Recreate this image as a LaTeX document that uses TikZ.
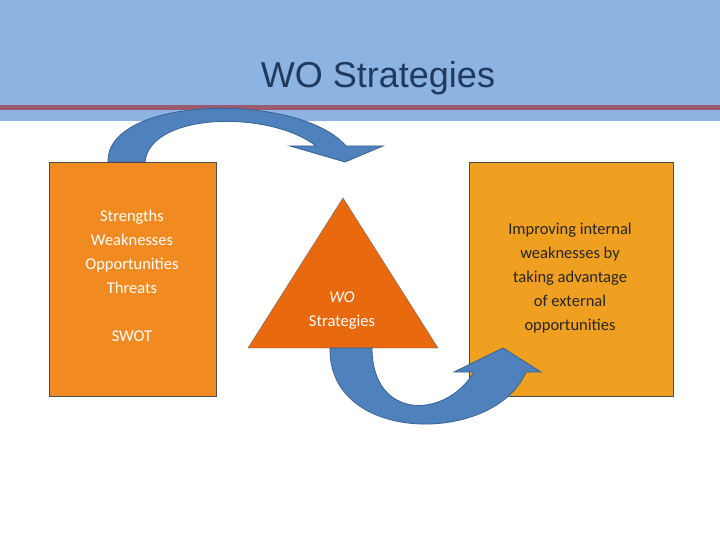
\documentclass[tikz,border=0pt]{standalone}
\usepackage{fontspec}
\setmainfont{Carlito}
\newfontfamily\titlefont{Liberation Sans}
\begin{document}
\begin{tikzpicture}[x=1pt,y=-1pt,
  boxtext/.style={align=center,font=\fontsize{16.5}{24}\selectfont},
  band/.style={fill=arrowblue,draw=arrowedge,line width=0.8pt}]
\definecolor{hdr}{HTML}{8DB3E2}
\definecolor{hdr2}{HTML}{95B9E4}
\definecolor{redline}{HTML}{9B5A6E}
\definecolor{titlec}{HTML}{1F3A60}
\definecolor{lbox}{HTML}{F28A22}
\definecolor{tri}{HTML}{E8690E}
\definecolor{rbox}{HTML}{F0A020}
\definecolor{arrowblue}{HTML}{4F81BD}
\definecolor{arrowedge}{HTML}{3A6393}
\useasboundingbox (0,0) rectangle (720,540);
\fill[white] (0,0) rectangle (720,540);
\fill[hdr] (0,0) rectangle (720,121);
\fill[redline] (0,105) rectangle (720,110);
\node[font=\titlefont\fontsize{36}{40}\selectfont,text=titlec] (title) at (378,78) {WO Strategies};
% top arrow
\path[band] (108,162) .. controls (106,95) and (300,92) .. (346,146)
  -- (383,146) -- (345,162) -- (290,146) -- (316,146)
  .. controls (270,110) and (150,112) .. (145,162) -- cycle;
% boxes
\node[draw=black!70,fill=lbox,minimum width=167,minimum height=234,anchor=north west,inner sep=0] (swot) at (49,162) {};
\node[boxtext,text=white,anchor=north] (swott) at (132,207) {Strengths\\Weaknesses\\Opportunities\\Threats\\[24pt]SWOT};
\node[draw=black!70,fill=rbox,minimum width=204,minimum height=234,anchor=north west,inner sep=0] (imp) at (469,162) {};
\node[boxtext,text=black!85,anchor=north] (impt) at (570,220) {Improving internal\\weaknesses by\\taking advantage\\of external\\opportunities};
\path[draw=black!60,fill=tri] (343,198) -- (438,348) -- (248,348) -- cycle;
\node[boxtext,text=white] (wo) at (342,311) {\textit{WO}\\Strategies};
% bottom arrow
\path[band] (330,348) .. controls (328,445) and (495,445) .. (526,372)
  -- (541,372) -- (503,348) -- (454,372) -- (474,372)
  .. controls (445,420) and (372,420) .. (372,348) -- cycle;
\end{tikzpicture}
\end{document}
